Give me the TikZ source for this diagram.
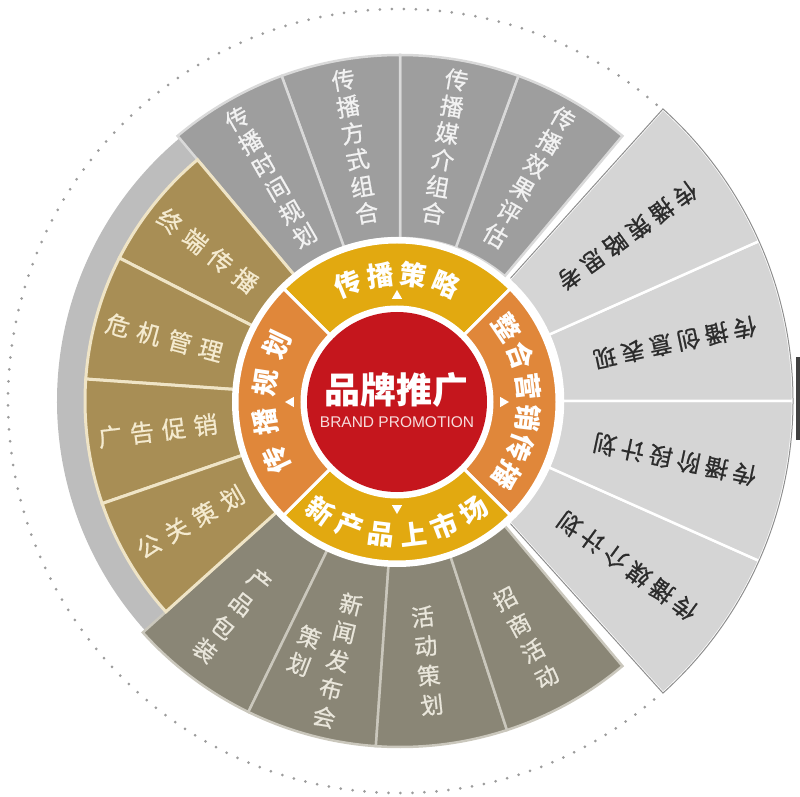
\documentclass[tikz,border=0pt]{standalone}
\usepackage{fontspec}
\newfontfamily\cjk{Noto Sans CJK SC}
\newfontfamily\cjkmid[FakeBold=0.8]{Noto Sans CJK SC}
\newfontfamily\latin{Liberation Sans}
\usetikzlibrary{shapes.geometric, positioning}

\definecolor{topgray}{HTML}{9E9E9E}
\definecolor{topline}{HTML}{D9D9D9}
\definecolor{topink}{HTML}{F2F2F2}
\definecolor{fangray}{HTML}{D5D5D5}
\definecolor{fanedge}{HTML}{8E8E8E}
\definecolor{fanink}{HTML}{2C2C2C}
\definecolor{browngold}{HTML}{A88E55}
\definecolor{brownline}{HTML}{EFE4C6}
\definecolor{brownink}{HTML}{F4EACF}
\definecolor{bandgray}{HTML}{BDBDBD}
\definecolor{olive}{HTML}{8A8676}
\definecolor{oliveline}{HTML}{CAC7BC}
\definecolor{oliveink}{HTML}{E9E6DB}
\definecolor{ringyellow}{HTML}{E2A910}
\definecolor{ringorange}{HTML}{E0873A}
\definecolor{hubred}{HTML}{C5161D}
\definecolor{hubink}{HTML}{F6DCDC}
\definecolor{dotgray}{HTML}{9C9C9C}

% annulus piece: style, start angle, end angle, inner radius, outer radius
\newcommand\slice[5]{%
  \path[#1] (#2:#4pt) -- (#2:#5pt) arc[start angle=#2, end angle=#3, radius=#5pt]
    -- (#3:#4pt) arc[start angle=#3, end angle=#2, radius=#4pt] -- cycle;}

% characters along a ray: style, name, angle, first radius, pitch, turn, chars
\newcommand\spoke[7]{%
  \foreach \ch [count=\k] in {#7}
    {\node[#1, rotate={#3+(#6)}] (#2-\k) at (#3:{#4-(\k-1)*(#5)}) {\ch};}}

% characters along an arc: style, name, radius, first angle, angle pitch, turn, chars
\newcommand\arctext[7]{%
  \foreach \ch [count=\k] in {#7}
    {\node[#1, rotate={#4-(\k-1)*(#5)+(#6)}] (#2-\k) at ({#4-(\k-1)*(#5)}:#3) {\ch};}}

\begin{document}
\begin{tikzpicture}[x=1pt, y=1pt,
  toplabel/.style={font=\cjkmid\fontsize{23.5}{23.5}\selectfont, text=topink, inner sep=0pt},
  fanlabel/.style={font=\cjkmid\fontsize{23.5}{23.5}\selectfont, text=fanink, inner sep=0pt},
  brownlabel/.style={font=\cjkmid\fontsize{24}{24}\selectfont, text=brownink, inner sep=0pt},
  olivelabel/.style={font=\cjkmid\fontsize{23}{23}\selectfont, text=oliveink, inner sep=0pt},
  ringlabel/.style={font=\cjk\bfseries\fontsize{27}{27}\selectfont, text=white, inner sep=0pt},
  pointer/.style={regular polygon, regular polygon sides=3, fill=white, inner sep=0pt, minimum size=12pt}]
\useasboundingbox (-400,-396) rectangle (400,401);

%dotted outline
\draw[dotgray, line width=3pt, line cap=round, dash pattern=on 0pt off 12pt] (0,0) circle[radius=392pt];

%light band behind the brown part
\slice{fill=bandgray}{126}{228}{163}{343}

%top gray sectors
\foreach \a in {50,70,90,110}
  {\slice{fill=topgray, draw=topline, line width=2.5pt}{\a}{\a+20}{163}{346}}

%bottom olive sectors
\foreach \a in {-138,-116,-94,-72}
  {\slice{fill=olive, draw=oliveline, line width=2.5pt}{\a}{\a+22}{163}{346}}

%left brown sectors
\foreach \a in {130,153,176,199}
  {\slice{fill=browngold, draw=brownline, line width=3pt}{\a}{\a+23}{163}{315}}

%right fan
\foreach \a in {-48,-24,0,24}
  {\slice{fill=fangray, draw=white, line width=2.5pt}{\a}{\a+24}{163}{393}}
\draw[fanedge, line width=1pt] (-48:165pt) -- (-48:393pt) arc[start angle=-48, end angle=48, radius=393pt] -- (48:165pt);
\fill[black!75] (396,-39) rectangle (400,44);

%sector texts
\spoke{toplabel}{time}{120}{326}{27}{-90}{传,播,时,间,规,划}
\spoke{toplabel}{way}{100}{326}{27}{-90}{传,播,方,式,组,合}
\spoke{toplabel}{media}{80}{326}{27}{-90}{传,播,媒,介,组,合}
\spoke{toplabel}{effect}{60}{326}{27}{-90}{传,播,效,果,评,估}

\spoke{fanlabel}{think}{36}{352}{28.5}{180}{传,播,策,略,思,考}
\spoke{fanlabel}{idea}{12}{352}{28.5}{180}{传,播,创,意,表,现}
\spoke{fanlabel}{stage}{-12}{352}{28.5}{180}{传,播,阶,段,计,划}
\spoke{fanlabel}{outlet}{-36}{352}{28.5}{180}{传,播,媒,介,计,划}

\spoke{brownlabel}{shop}{142}{292}{32}{180}{终,端,传,播}
\spoke{brownlabel}{crisis}{165}{292}{32}{180}{危,机,管,理}
\spoke{brownlabel}{advert}{187}{292}{32}{180}{广,告,促,销}
\spoke{brownlabel}{pr}{210}{290}{32}{180}{公,关,策,划}

\spoke{olivelabel}{pack}{-128}{228}{-29.5}{90}{产,品,包,装}
\spoke{olivelabel}{press}{-103.5}{209}{-29}{90}{新,闻,发,布,会}
\spoke{olivelabel}{pressb}{-111}{253}{-29}{90}{策,划}
\spoke{olivelabel}{event}{-84}{217}{-29.5}{90}{活,动,策,划}
\spoke{olivelabel}{trade}{-62}{224}{-29.5}{90}{招,商,活,动}

%inner ring and hub
\begin{scope}[shift={(-3,-1)}]
\fill[white] (0,0) circle[radius=165pt];
\slice{fill=ringyellow, draw=white, line width=3pt}{45}{135}{95}{160}
\slice{fill=ringorange, draw=white, line width=3pt}{-45}{45}{95}{160}
\slice{fill=ringyellow, draw=white, line width=3pt}{-135}{-45}{95}{160}
\slice{fill=ringorange, draw=white, line width=3pt}{135}{225}{95}{160}
\fill[hubred] (0,0) circle[radius=90pt];

\arctext{ringlabel}{strat}{128}{112.5}{15}{-90}{传,播,策,略}
\arctext{ringlabel}{mix}{132}{34}{13.6}{-90}{整,合,营,销,传,播}
\arctext{ringlabel}{launch}{133}{-125}{-14}{90}{新,产,品,上,市,场}
\arctext{ringlabel}{plan}{133}{205.5}{17}{-90}{传,播,规,划}

\node[pointer] (tri-n) at (90:106) {};
\node[pointer, rotate=-90] (tri-e) at (0:106) {};
\node[pointer, rotate=180] (tri-s) at (-90:106) {};
\node[pointer, rotate=90] (tri-w) at (180:106) {};

\node[font=\cjk\bfseries\fontsize{36}{36}\selectfont, text=white, inner sep=0pt] (brand) at (0,12) {品牌推广};
\node[font=\latin\fontsize{15.5}{15.5}\selectfont, text=hubink, inner sep=0pt, below=9pt of brand] (brandlatin) {BRAND PROMOTION};
\end{scope}
\end{tikzpicture}
\end{document}
